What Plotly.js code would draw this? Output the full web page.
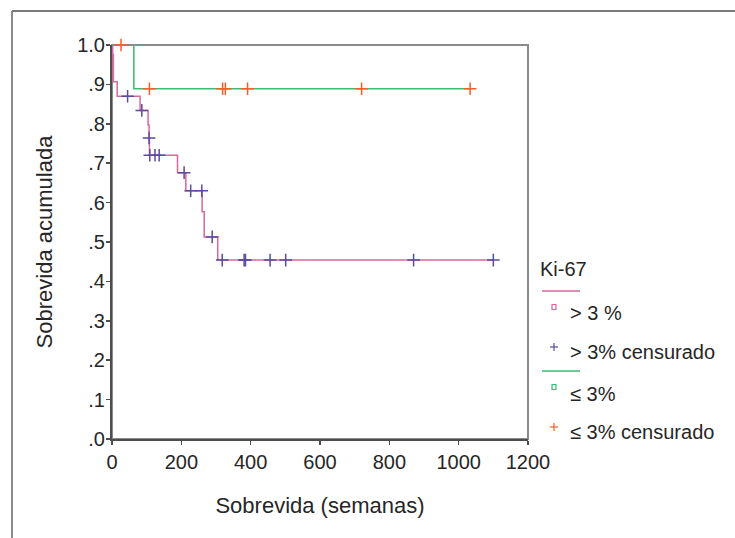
<!DOCTYPE html>
<html>
<head>
<meta charset="utf-8">
<script src="https://cdn.plot.ly/plotly-3.0.1.min.js"></script>
<style>
  html, body { margin: 0; padding: 0; background: #ffffff; }
  #chart { width: 735px; height: 538px; }
</style>
</head>
<body>
<div id="chart"></div>
<script>
// ---------------- DATA ----------------
// Ki-67 > 3 % : Kaplan-Meier steps (time in weeks, cumulative survival after the step)
const highTimes = [0, 2, 4, 15, 81, 104, 107, 108, 189, 213, 260, 266, 305, 1100];
const highSurv  = [1.0, 0.975, 0.907, 0.870, 0.834, 0.797, 0.764, 0.720, 0.676, 0.630, 0.577, 0.513, 0.454, 0.454];
// Ki-67 > 3 % : censored cases
const highCensTimes = [45, 86, 107, 109, 124, 136, 208, 227, 259, 289, 318, 381, 385, 456, 501, 870, 1100];
const highCensSurv  = [0.870, 0.834, 0.764, 0.720, 0.720, 0.720, 0.676, 0.630, 0.630, 0.513, 0.454, 0.454, 0.454, 0.454, 0.454, 0.454, 0.454];

// Ki-67 <= 3 % : steps
const lowTimes = [0, 63, 1033];
const lowSurv  = [1.0, 0.889, 0.889];
// Ki-67 <= 3 % : censored cases
const lowCensTimes = [26, 108, 319, 327, 391, 720, 1033];
const lowCensSurv  = [1.0, 0.889, 0.889, 0.889, 0.889, 0.889, 0.889];

// Axis ticks
const xTickVals = [0, 200, 400, 600, 800, 1000, 1200];
const yTickVals = [0, 0.1, 0.2, 0.3, 0.4, 0.5, 0.6, 0.7, 0.8, 0.9, 1.0];
const yTickText = ['.0', '.1', '.2', '.3', '.4', '.5', '.6', '.7', '.8', '.9', '1.0'];

// Legend
const legendTitle = 'Ki-67';
const legendLabels = ['> 3 %', '> 3% censurado', '\u2264 3%', '\u2264 3% censurado'];

// ---------------- STYLE ----------------
const PINK = '#d9689c';
const GREEN = '#3dbb70';
const PURPLE = '#5b4a9e';
const ORANGE = '#f0602a';
const AXIS = '#4d4d4d';
const TXT = '#262626';
const FONT = 'Arial, "Liberation Sans", sans-serif';

const W = 735, H = 538;
const M = {l: 112, r: 207, t: 45, b: 99};
const PW = W - M.l - M.r, PH = H - M.t - M.b;
const px = v => (v - M.l) / PW;          // pixel x -> paper
const py = v => (H - M.b - v) / PH;      // pixel y -> paper

const traces = [
  {x: highTimes, y: highSurv, type: 'scatter', mode: 'lines',
   line: {color: PINK, width: 1.5, shape: 'hv'}, hoverinfo: 'skip', showlegend: false},
  {x: lowTimes, y: lowSurv, type: 'scatter', mode: 'lines',
   line: {color: GREEN, width: 1.5, shape: 'hv'}, hoverinfo: 'skip', showlegend: false},
  {x: highCensTimes, y: highCensSurv, type: 'scatter', mode: 'markers', cliponaxis: false,
   marker: {symbol: 'cross-thin-open', size: 9, line: {color: PURPLE, width: 1.5}, color: PURPLE},
   hoverinfo: 'skip', showlegend: false},
  {x: lowCensTimes, y: lowCensSurv, type: 'scatter', mode: 'markers', cliponaxis: false,
   marker: {symbol: 'cross-thin-open', size: 9, line: {color: ORANGE, width: 1.5}, color: ORANGE},
   hoverinfo: 'skip', showlegend: false}
];

const shapes = [];
// plot frame (top / right lighter)
shapes.push({type: 'rect', xref: 'paper', yref: 'paper', x0: 0, x1: 1, y0: 0, y1: 1,
  line: {color: '#8a8a8a', width: 2}, layer: 'below'});
// outer frame: left and top lines
shapes.push({type: 'line', xref: 'paper', yref: 'paper', x0: px(12), x1: px(12), y0: py(11), y1: py(540),
  line: {color: '#8a8a8a', width: 2}});
shapes.push({type: 'line', xref: 'paper', yref: 'paper', x0: px(12), x1: px(740), y0: py(11), y1: py(11),
  line: {color: '#7a7a7a', width: 2}});

// custom legend
function hline(y, color) {
  shapes.push({type: 'line', xref: 'paper', yref: 'paper', x0: px(542), x1: px(580), y0: py(y), y1: py(y),
    line: {color: color, width: 1.5}});
}
function square(cx, cy, color) {
  shapes.push({type: 'rect', xref: 'paper', yref: 'paper', x0: px(cx - 2), x1: px(cx + 2), y0: py(cy - 2.5), y1: py(cy + 2.5),
    line: {color: color, width: 1.2}});
}
function plus(cx, cy, color) {
  shapes.push({type: 'line', xref: 'paper', yref: 'paper', x0: px(cx - 4), x1: px(cx + 4), y0: py(cy), y1: py(cy),
    line: {color: color, width: 1.2}});
  shapes.push({type: 'line', xref: 'paper', yref: 'paper', x0: px(cx), x1: px(cx), y0: py(cy - 4), y1: py(cy + 4),
    line: {color: color, width: 1.2}});
}
hline(291, PINK);
square(554, 307, PINK);
plus(554, 347, PURPLE);
hline(371, GREEN);
square(554, 387, GREEN);
plus(554, 427, ORANGE);

const annotations = [];
function label(text, x, y) {
  annotations.push({text: text, xref: 'paper', yref: 'paper', x: px(x), y: py(y),
    xanchor: 'left', yanchor: 'middle', showarrow: false, font: {family: FONT, size: 20, color: TXT}});
}
label(legendTitle, 538, 269);
label(legendLabels[0], 568, 313);
label(legendLabels[1], 568, 352);
label(legendLabels[2], 568, 394);
label(legendLabels[3], 568, 432);

const layout = {
  width: W, height: H,
  margin: M,
  paper_bgcolor: '#ffffff', plot_bgcolor: '#ffffff',
  font: {family: FONT, color: TXT, size: 20},
  showlegend: false,
  xaxis: {
    range: [0, 1200], tickvals: xTickVals, ticktext: xTickVals.map(String),
    showgrid: false, zeroline: false, showline: true, linecolor: AXIS, linewidth: 2,
    ticks: 'outside', ticklen: 4, tickwidth: 1.5, tickcolor: AXIS,
    tickfont: {family: FONT, size: 20, color: TXT},
    title: {text: 'Sobrevida (semanas)', font: {family: FONT, size: 22, color: TXT}, standoff: 26}
  },
  yaxis: {
    range: [0, 1.0], tickvals: yTickVals, ticktext: yTickText,
    showgrid: false, zeroline: false, showline: true, linecolor: AXIS, linewidth: 2,
    ticks: 'outside', ticklen: 4, tickwidth: 1.5, tickcolor: AXIS,
    ticklabelstandoff: -3,
    tickfont: {family: FONT, size: 20, color: TXT},
    title: {text: 'Sobrevida acumulada', font: {family: FONT, size: 22, color: TXT}, standoff: 18}
  },
  shapes: shapes,
  annotations: annotations
};

Plotly.newPlot('chart', traces, layout, {displayModeBar: false, staticPlot: true});
</script>
</body>
</html>
